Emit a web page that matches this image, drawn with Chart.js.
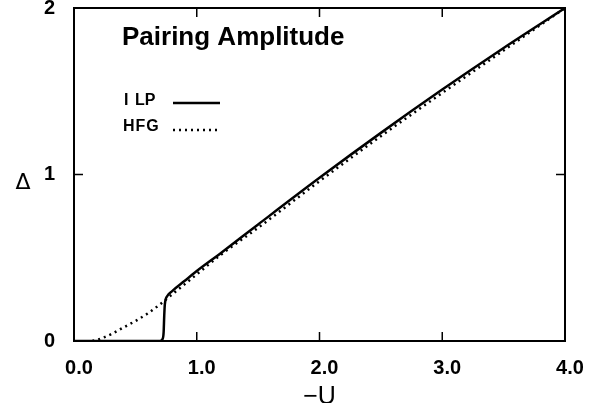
<!DOCTYPE html>
<html>
<head>
<meta charset="utf-8">
<script src="https://cdn.jsdelivr.net/npm/chart.js@4/dist/chart.umd.min.js"></script>
<style>
  html, body { margin: 0; padding: 0; background: #fff; }
  #wrap { width: 602px; height: 403px; }
</style>
</head>
<body>
<div id="wrap"><canvas id="pairChart"></canvas></div>
<script>
// -U values and pairing amplitude
const ilpU     = [0, 0.70, 0.72, 0.73, 0.735, 0.74, 0.76, 0.80, 0.90, 1.0, 1.2, 1.5, 2.0, 2.5, 3.0, 3.5, 4.0];
const ilpDelta = [0, 0,    0.01, 0.05, 0.15,  0.22, 0.27, 0.30, 0.36, 0.42, 0.53, 0.70, 0.98, 1.25, 1.51, 1.76, 2.0];
const hfgU     = [0.15, 0.2, 0.3, 0.4, 0.5, 0.6, 0.7, 0.8, 0.9, 1.0, 1.2, 1.5, 2.0, 2.5, 3.0, 3.5, 4.0];
const hfgDelta = [0, 0.01, 0.04, 0.08, 0.12, 0.165, 0.22, 0.28, 0.34, 0.40, 0.52, 0.68, 0.96, 1.23, 1.49, 1.745, 2.0];
const xTicks = [0, 1, 2, 3, 4];
const yTicks = [0, 1, 2];

const toPoints = (xs, ys) => xs.map((x, i) => ({ x: x, y: ys[i] }));

// box, inward ticks, title, legend and the delta label
const decor = {
    id: 'decor',
    afterDraw(chart) {
        const { ctx, chartArea: a, scales } = chart;
        ctx.save();
        ctx.strokeStyle = '#000';
        ctx.lineWidth = 2;
        ctx.strokeRect(a.left, a.top, a.right - a.left, a.bottom - a.top);

        ctx.lineWidth = 1.5;
        ctx.beginPath();
        [1, 2, 3].forEach(v => {
            const px = scales.x.getPixelForValue(v);
            ctx.moveTo(px, a.bottom); ctx.lineTo(px, a.bottom - 9);
            ctx.moveTo(px, a.top); ctx.lineTo(px, a.top + 9);
        });
        const py = scales.y.getPixelForValue(1);
        ctx.moveTo(a.left, py); ctx.lineTo(a.left + 9, py);
        ctx.moveTo(a.right, py); ctx.lineTo(a.right - 9, py);
        ctx.stroke();

        ctx.fillStyle = '#000';
        ctx.textBaseline = 'alphabetic';
        ctx.textAlign = 'left';
        ctx.font = 'bold 26px "Liberation Sans", Arial, sans-serif';
        ctx.fillText('Pairing Amplitude', 122, 45);

        // legend: ILP solid, HFG dotted
        ctx.font = 'bold 16px "Liberation Sans", Arial, sans-serif';
        ctx.textBaseline = 'middle';
        ctx.fillText('I', 124, 101);
        ctx.fillText('LP', 135, 101);
        ctx.letterSpacing = '1px';
        ctx.fillText('HFG', 123, 127);
        ctx.letterSpacing = '0px';
        ctx.lineWidth = 2.5;
        ctx.beginPath(); ctx.moveTo(173, 103); ctx.lineTo(220, 103); ctx.stroke();
        ctx.setLineDash([2, 4]);
        ctx.beginPath(); ctx.moveTo(173, 130); ctx.lineTo(219, 130); ctx.stroke();
        ctx.setLineDash([]);

        ctx.font = '22px "DejaVu Sans", sans-serif';
        ctx.textAlign = 'center';
        ctx.fillText('\u0394', 23, 183);
        ctx.restore();
    }
};

new Chart(document.getElementById('pairChart'), {
    type: 'scatter',
    data: {
        datasets: [{
            label: 'ILP',
            data: toPoints(ilpU, ilpDelta),
            showLine: true,
            borderColor: '#000',
            borderWidth: 2.5,
            pointRadius: 0,
            cubicInterpolationMode: 'monotone'
        }, {
            label: 'HFG',
            data: toPoints(hfgU, hfgDelta),
            showLine: true,
            borderColor: '#000',
            borderWidth: 2.5,
            borderDash: [2, 4],
            pointRadius: 0,
            cubicInterpolationMode: 'monotone'
        }]
    },
    options: {
        responsive: true,
        maintainAspectRatio: false,
        animation: false,
        layout: { padding: { top: 8, right: 37, left: 0, bottom: 0 } },
        plugins: { legend: { display: false }, tooltip: { enabled: false } },
        scales: {
            x: {
                type: 'linear',
                min: 0, max: 4,
                afterBuildTicks: s => { s.ticks = xTicks.map(v => ({ value: v })); },
                afterFit: s => { s.height = 62; s.paddingLeft = 0; s.paddingRight = 0; },
                grid: { display: false, drawTicks: false },
                border: { display: false },
                ticks: {
                    color: '#000',
                    padding: 15,
                    labelOffset: 5,
                    font: { family: '"Liberation Sans", Arial, sans-serif', size: 20, weight: 'bold' },
                    callback: v => v.toFixed(1)
                },
                title: {
                    display: true,
                    text: '\u2212U',
                    color: '#000',
                    padding: { top: 4, bottom: -7 },
                    font: { family: '"Liberation Sans", Arial, sans-serif', size: 25, lineHeight: 1 }
                }
            },
            y: {
                type: 'linear',
                min: 0, max: 2,
                afterBuildTicks: s => { s.ticks = yTicks.map(v => ({ value: v })); },
                afterFit: s => { s.width = 74; s.paddingTop = 0; s.paddingBottom = 0; },
                grid: { display: false, drawTicks: false },
                border: { display: false },
                ticks: {
                    color: '#000',
                    padding: 19,
                    font: { family: '"Liberation Sans", Arial, sans-serif', size: 20, weight: 'bold' }
                }
            }
        }
    },
    plugins: [decor]
});
</script>
</body>
</html>
